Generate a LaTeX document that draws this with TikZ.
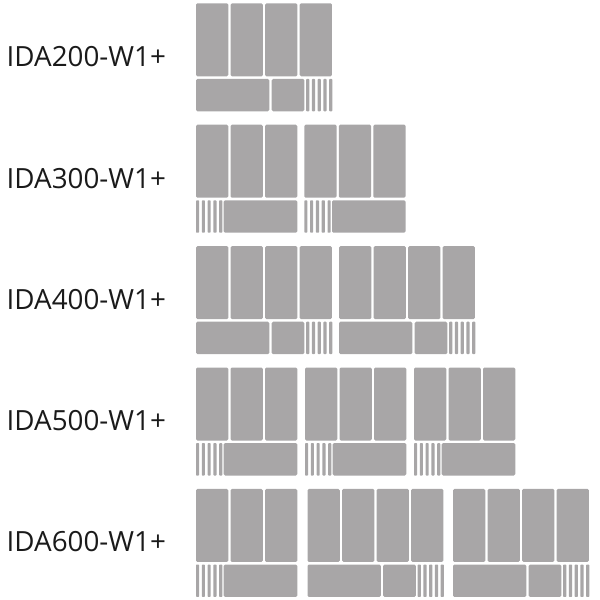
\documentclass[tikz,border=0pt]{standalone}
\usepackage{fontspec}
\setmainfont{Open Sans}
\definecolor{cellgray}{RGB}{168,166,167}
\definecolor{labeltext}{RGB}{26,26,26}
\tikzset{
  cellfill/.style={fill=cellgray, rounded corners=1.4pt},
  stripfill/.style={fill=cellgray, rounded corners=0.7pt},
  lbl/.style={font=\fontsize{27.8}{30}\selectfont, text=labeltext, inner sep=0pt, anchor=base west}
}
% module with four columns, strips on the right
\newcommand{\modA}[2]{%
  \foreach \cc in {0,1,2,3} {\fill[cellfill] ({#1+\cc*34.55},{#2}) rectangle ++(32.3,73);}
  \fill[cellfill] ({#1},{#2+75.6}) rectangle ++(73.3,32.4);
  \fill[cellfill] ({#1+75.7},{#2+75.6}) rectangle ++(32.6,32.4);
  \foreach \ss in {0,...,4} {\fill[stripfill] ({#1+110.2+\ss*5.75},{#2+75.6}) rectangle ++(3.1,32.4);}
}
% module with three columns, strips on the left
\newcommand{\modB}[2]{%
  \foreach \ss in {0,...,4} {\fill[stripfill] ({#1+\ss*5.8},{#2+75.6}) rectangle ++(3.1,32.4);}
  \foreach \cc in {0,1,2} {\fill[cellfill] ({#1+\cc*34.5},{#2}) rectangle ++(32.3,73);}
  \fill[cellfill] ({#1+27.7},{#2+75.6}) rectangle ++(73.6,32.4);
}
\begin{document}
\begin{tikzpicture}[x=1pt,y=-1pt]
\useasboundingbox (0,0) rectangle (600,600);
% row 1
\node[lbl] (l200) at (6.5,{3.3+63}) {IDA200-W1+};
\modA{196}{3.3}
% row 2
\node[lbl] (l300) at (6.5,{124.7+63.5}) {IDA300-W1+};
\modB{196}{124.7}
\modB{304.3}{124.7}
% row 3
\node[lbl] (l400) at (6.5,{246.1+63.5}) {IDA400-W1+};
\modA{196}{246.1}
\modA{339}{246.1}
% row 4
\node[lbl] (l500) at (6.5,{367.5+62.8}) {IDA500-W1+};
\modB{196}{367.5}
\modB{305}{367.5}
\modB{414}{367.5}
% row 5
\node[lbl] (l600) at (6.5,{488.9+62.3}) {IDA600-W1+};
\modB{196}{488.9}
\modA{307.5}{488.9}
\modA{453}{488.9}
\end{tikzpicture}
\end{document}
